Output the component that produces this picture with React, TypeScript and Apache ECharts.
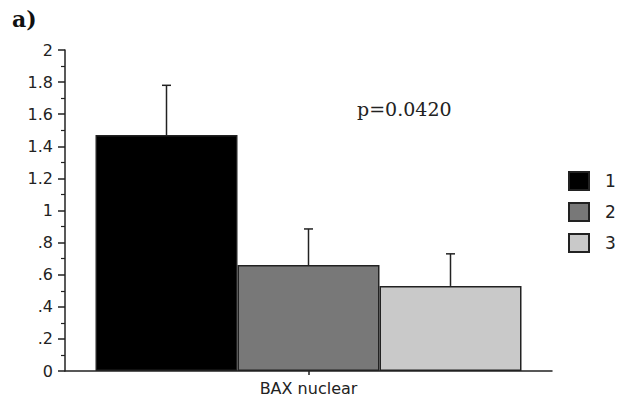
import React, { useEffect, useRef } from "react";
import * as echarts from "echarts";

const categories = ["BAX nuclear"];
const groups = ["1", "2", "3"];
const means = [1.47, 0.66, 0.53];
const errors = [0.31, 0.225, 0.2];
const colors = ["#000000", "#787878", "#c9c9c9"];
const yTicks = { min: 0, max: 2, interval: 0.2 };
const pLabel = "p=0.0420";
const panelLabel = "a)";

const BAR_W = 142;

export default function App() {
  const ref = useRef<HTMLDivElement>(null);
  useEffect(() => {
    if (!ref.current) return;
    const chart = echarts.init(ref.current, null, { renderer: "svg" });
    const barSeries = groups.map((g, i) => ({
      name: g,
      type: "bar",
      data: [means[i]],
      barWidth: BAR_W,
      barGap: "0%",
      itemStyle: { color: colors[i], borderColor: "#222", borderWidth: 1.5 },
      z: 2,
    }));
    const errSeries = {
      type: "custom",
      z: 3,
      data: groups.map((g, i) => [0, means[i], means[i] + errors[i], i]),
      renderItem: (params: any, api: any) => {
        const idx = api.value(3);
        const base = api.coord([api.value(0), api.value(1)]);
        const top = api.coord([api.value(0), api.value(2)]);
        const x = base[0] + (idx - 1) * BAR_W;
        const cap = 4.5;
        const style = { stroke: "#222", lineWidth: 1.5 };
        return {
          type: "group",
          children: [
            { type: "line", shape: { x1: x, y1: base[1], x2: x, y2: top[1] }, style },
            { type: "line", shape: { x1: x - cap, y1: top[1], x2: x + cap, y2: top[1] }, style },
          ],
        };
      },
    };
    chart.setOption({
      animation: false,
      backgroundColor: "#ffffff",
      grid: { left: 65, right: 76, top: 50, bottom: 33, containLabel: false },
      legend: {
        data: groups,
        orient: "vertical",
        left: 568,
        top: 171,
        padding: 0,
        icon: "rect",
        itemWidth: 20,
        itemHeight: 18,
        itemGap: 11,
        textStyle: { fontFamily: "DejaVu Sans", fontSize: 17, color: "#222", padding: [0, 0, 0, 11] },
      },
      xAxis: {
        type: "category",
        data: categories,
        axisLine: { lineStyle: { color: "#222", width: 1.5 } },
        axisTick: { show: true, alignWithLabel: true, length: 4, lineStyle: { color: "#222", width: 1.5 } },
        axisLabel: { fontFamily: "DejaVu Sans", fontSize: 16, color: "#222", margin: 9 },
      },
      yAxis: {
        type: "value",
        min: yTicks.min,
        max: yTicks.max,
        interval: yTicks.interval,
        splitLine: { show: false },
        axisLine: { show: true, lineStyle: { color: "#222", width: 1.5 } },
        axisTick: { show: true, length: 7, lineStyle: { color: "#222", width: 1.5 } },
        minorTick: { show: true, splitNumber: 2, length: 4, lineStyle: { color: "#222", width: 1.2 } },
        axisLabel: {
          fontFamily: "DejaVu Sans",
          fontSize: 16,
          color: "#222",
          margin: 12,
          formatter: (v: number) => {
            const s = String(Math.round(v * 10) / 10);
            return s.startsWith("0.") ? s.slice(1) : s;
          },
        },
      },
      graphic: [
        {
          type: "text",
          left: 357,
          top: 99,
          style: { text: pLabel, fontFamily: "DejaVu Serif", fontSize: 19, fill: "#222" },
        },
        {
          type: "text",
          left: 12,
          top: 8,
          style: { text: panelLabel, fontFamily: "DejaVu Serif", fontWeight: "bold", fontSize: 22, fill: "#111" },
        },
      ],
      series: [...barSeries, errSeries],
    });
    return () => chart.dispose();
  }, []);
  return (
    <div
      ref={ref}
      style={{ position: "absolute", left: 0, top: 0, width: 628, height: 404 }}
    />
  );
}
